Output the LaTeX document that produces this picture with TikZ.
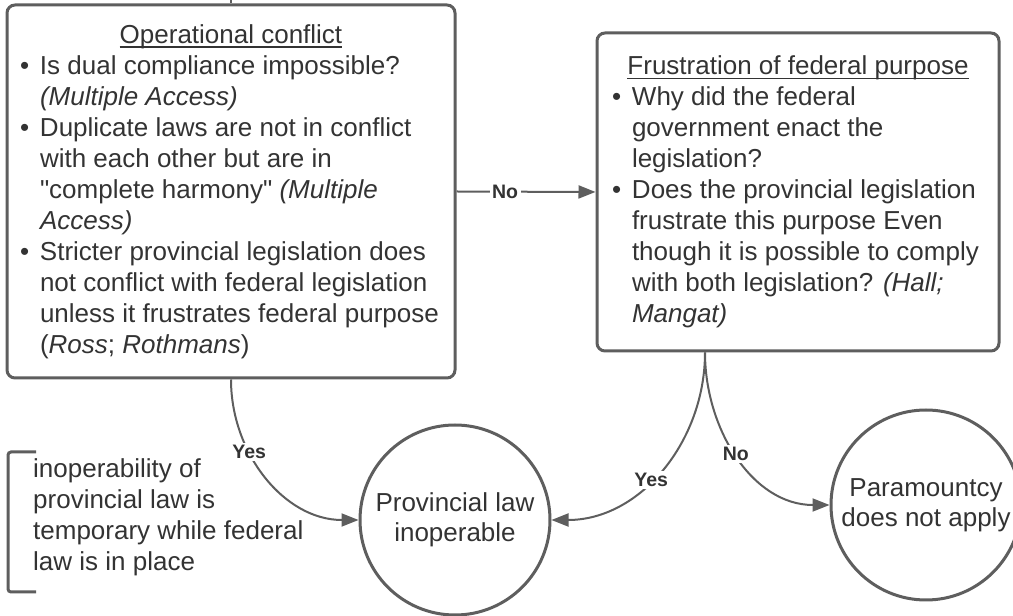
\documentclass[tikz,border=0pt]{standalone}
\usepackage{fontspec}
\setmainfont{Liberation Sans}[Ligatures=TeXOff]
\usepackage{tikz}
\usetikzlibrary{arrows.meta}
\definecolor{linegray}{RGB}{94, 94, 94}
\definecolor{textgray}{RGB}{51, 51, 51}
\newcommand\boxtitle[1]{\setbox0=\hbox{#1}\rlap{\rule[-4.5pt]{\wd0}{1.5pt}}\box0}
\newcommand\itemdot{\makebox[20pt][l]{\textbullet}}
\newcommand\itemgap{\hspace*{20pt}}

\begin{document}
\begin{tikzpicture}[x=1pt, y=1pt, >={Triangle[length=17pt, width=13pt]},
    box/.style={draw=linegray, line width=3pt, rounded corners=8pt, align=left,
        text=textgray, font=\fontsize{26}{31}\selectfont, inner sep=0pt},
    outcome/.style={draw=linegray, line width=3pt, circle, minimum size=190pt,
        align=center, text=textgray, font=\fontsize{26}{30}\selectfont, inner sep=0pt},
    flow/.style={color=linegray, line width=2pt, ->},
    answer/.style={fill=white, text=textgray, font=\fontsize{19.5}{20}\selectfont\bfseries, inner sep=2.5pt}]
    \useasboundingbox (0,0) rectangle (1013,616);

    % Operational conflict
    \node[box, minimum width=448pt, minimum height=373pt] (oc) at (231,424.5) {%
        \hbox to 422pt{\hfil\boxtitle{Operational conflict}\hfil}\\
        \itemdot Is dual compliance impossible?\\
        \itemgap\textit{(Multiple Access)}\\
        \itemdot Duplicate laws are not in conflict\\
        \itemgap with each other but are in\\
        \itemgap"complete harmony" \textit{(Multiple}\\
        \itemgap\textit{Access)}\\
        \itemdot Stricter provincial legislation does\\
        \itemgap not conflict with federal legislation\\
        \itemgap unless it frustrates federal purpose\\
        \itemgap(\textit{Ross}; \textit{Rothmans})};
    \draw[linegray, line width=2pt] (oc.north) -- ++(0,10);

    % Frustration of federal purpose
    \node[box, minimum width=402pt, minimum height=318pt] (ffp) at (798,424) {%
        \hbox to 372pt{\hfil\boxtitle{Frustration of federal purpose}\hfil}\\
        \itemdot Why did the federal\\
        \itemgap government enact the\\
        \itemgap legislation?\\
        \itemdot Does the provincial legislation\\
        \itemgap frustrate this purpose Even\\
        \itemgap though it is possible to comply\\
        \itemgap with both legislation? \textit{(Hall;}\\
        \itemgap\textit{Mangat)}};
    \coordinate (split) at ([xshift=-93pt]ffp.south);

    % Outcomes
    \node[outcome] (inop) at (455,96) {Provincial law\\inoperable};
    \node[outcome] (para) at (926,111) {Paramountcy\\does not apply};

    % Note with bracket
    \node[anchor=west, align=left, inner sep=0pt, text=textgray,
        font=\fontsize{26}{31}\selectfont] (note) at (33,99) {inoperability of\\provincial law is\\temporary while federal\\law is in place};
    \draw[linegray, line width=3pt, rounded corners=3pt] (36,164) -- (8,164) -- (8,24) -- (36,24);

    % Lines
    \draw[flow] (oc.east) -- (ffp.west) node[answer, pos=0.35] {No};
    \draw[flow] (oc.south) to[out=-90, in=180] node[answer, pos=0.35] {Yes} (inop.west);
    \draw[flow] (split) to[out=-90, in=0] node[answer, pos=0.56] {Yes} (inop.east);
    \draw[flow] (split) to[out=-90, in=180] node[answer, pos=0.48] {No} (para.west);
\end{tikzpicture}
\end{document}
